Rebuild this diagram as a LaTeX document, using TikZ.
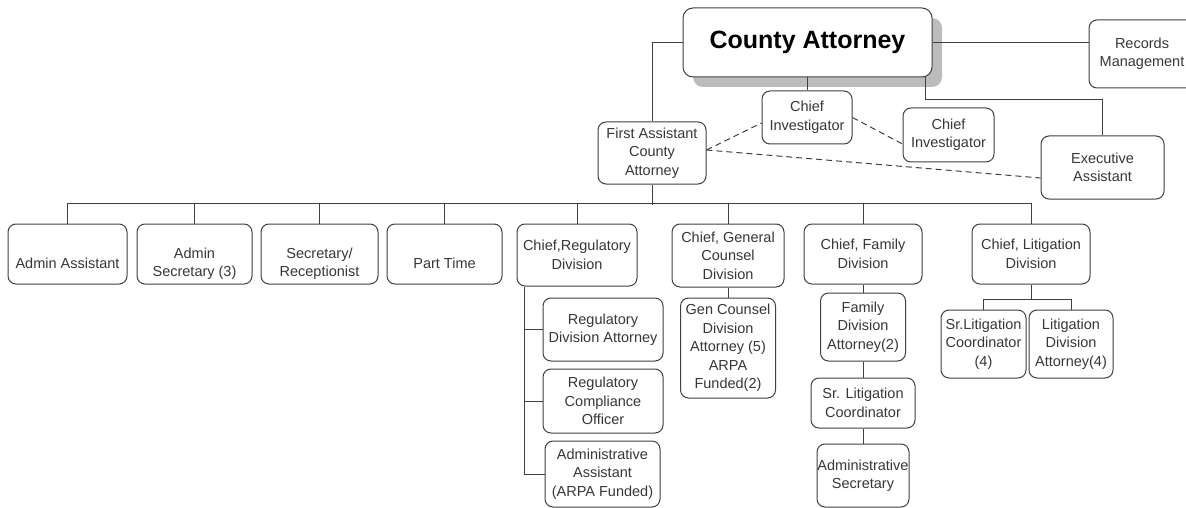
\documentclass[tikz,border=0pt]{standalone}
\usepackage{fontspec}
\setmainfont{Liberation Sans}
\usetikzlibrary{shadows}
\definecolor{LineGray}{RGB}{64,64,64}
\definecolor{TextGray}{RGB}{55,55,55}
\definecolor{ShadowGray}{RGB}{188,188,188}

\begin{document}
\begin{tikzpicture}[x=1pt,y=-1pt,
  box/.style={draw=LineGray,fill=white,rounded corners=8pt,line width=1pt,
              align=center,inner sep=0pt,text=TextGray,
              font=\fontsize{14.5}{18.5}\selectfont},
  headbox/.style={box,rounded corners=10pt,text=black,
                  font=\fontsize{25}{30}\selectfont\bfseries,
                  drop shadow={shadow xshift=10pt,shadow yshift=-10pt,
                               fill=ShadowGray,opacity=1}},
  sz/.style 2 args={minimum width=#1,minimum height=#2},
  lowtext/.style={text height=#1},
  link/.style={draw=LineGray,line width=1pt},
  dep/.style={link,dash pattern=on 6pt off 4pt},
]
\useasboundingbox (0,0) rectangle (1186,508);

%% Top: county attorney and direct staff
\node[headbox,sz={249}{69}] (ca)  at (807.5,42.5) {County Attorney};
\node[box,sz={106}{68}]     (rec) at (1142,54)    {Records\\Management};
\node[box,sz={90}{53}]      (ci1) at (807,117.5)  {Chief\\Investigator};
\node[box,sz={91}{54}]      (ci2) at (948.5,135)  {Chief\\Investigator};
\node[box,sz={108}{62}]     (fa)  at (652,153)    {First Assistant\\County\\Attorney};
\node[box,sz={123}{63}]     (ea)  at (1102.5,167.5) {Executive\\Assistant};

\draw[link] (ca.west) -| (fa.north);
\draw[link] (ca.east) -- (ca.east -| rec.west);
\draw[link] (ci1.north) -- (ci1.north |- ca.south);
\draw[link] ([xshift=-7pt]ca.south east) -- ++(0,22) -| (ea.north);
\draw[dep] ([yshift=3pt]fa.east) -- ([yshift=-5.5pt]ci1.west);
\draw[dep] (ci1.east) -- ([yshift=-9pt]ci2.west);
\draw[dep] ([yshift=3pt]fa.east) -- ([yshift=-10.5pt]ea.west);

%% Office staff and division chiefs
\node[box,sz={119}{60},lowtext=29pt] (adm) at (67.5,254)  {Admin Assistant};
\node[box,sz={115}{60},lowtext=49pt] (ads) at (194.5,254) {Admin\\Secretary (3)};
\node[box,sz={117}{60},lowtext=49pt] (sec) at (319.5,254) {Secretary/\\Receptionist};
\node[box,sz={115}{60},lowtext=29pt] (pt)  at (444.5,254) {Part Time};
\node[box,sz={120}{62}] (reg) at (577,255)   {Chief,Regulatory\\Division};
\node[box,sz={112}{63}] (gc)  at (728,255.5) {Chief, General\\Counsel\\Division};
\node[box,sz={118}{60}] (fam) at (863,254)   {Chief, Family\\Division};
\node[box,sz={118}{60}] (lit) at (1031,254)  {Chief, Litigation\\Division};

\draw[link] (fa.south) -- ++(0,20);
\draw[link] (adm.north) -- ++(0,-20) -| (lit.north);
\foreach \n in {ads,sec,pt,reg,gc,fam}
  \draw[link] (\n.north) -- ++(0,-20);

%% Division staff
\node[box,sz={120}{63}] (rda)  at (603,329.5) {Regulatory\\Division Attorney};
\node[box,sz={120}{64}] (rco)  at (603,401)   {Regulatory\\Compliance\\Officer};
\node[box,sz={115}{66}] (aaa)  at (602.5,474) {Administrative\\Assistant\\(ARPA Funded)};
\node[box,sz={95}{100}] (gca)  at (728,348)   {Gen Counsel\\Division\\Attorney (5)\\ARPA\\Funded(2)};
\node[box,sz={85}{68}]  (fda)  at (863,327)   {Family\\Division\\Attorney(2)};
\node[box,sz={104}{50}] (slc)  at (863,403)   {Sr. Litigation\\Coordinator};
\node[box,sz={92}{63}]  (asec) at (863,475.5) {Administrative\\Secretary};
\node[box,sz={85}{68}]  (lsc)  at (983.5,344) {Sr.Litigation\\Coordinator\\(4)};
\node[box,sz={84}{68}]  (lda)  at (1071,344)  {Litigation\\Division\\Attorney(4)};

\draw[link] ([xshift=-53pt]reg.south) |- (aaa.west);
\foreach \n in {rda,rco}
  \draw[link] (\n.west) -- ++(-19,0);
\draw[link] (gc.south) -- (gca.north);
\draw[link] (fam.south) -- (fda.north);
\draw[link] (fda.south) -- (slc.north);
\draw[link] (slc.south) -- (asec.north);
\draw[link] (lit.south) -- ++(0,15) -| (lsc.north);
\draw[link] (lit.south) ++(0,15) -| (lda.north);

\end{tikzpicture}
\end{document}
